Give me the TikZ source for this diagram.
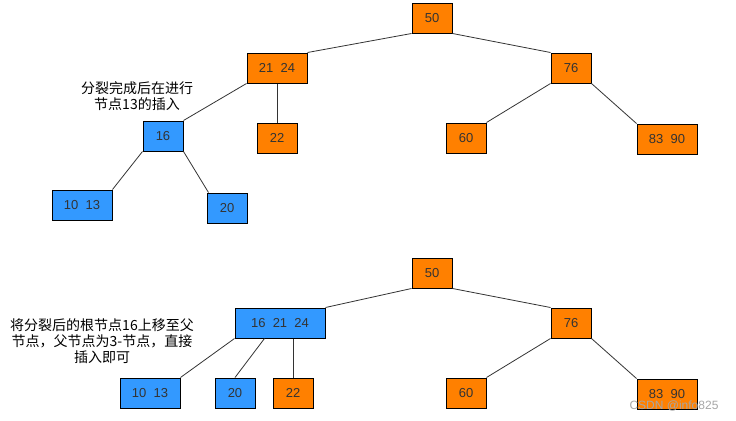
\documentclass[tikz,border=0pt]{standalone}
\usepackage{fontspec}
\setmainfont{Liberation Sans}
\newfontfamily\cjkfont{Noto Sans CJK SC}
\definecolor{keyorange}{RGB}{255,128,0}
\definecolor{keyblue}{RGB}{51,153,255}
\tikzset{
  key/.style={draw=black, line width=0.75pt, minimum height=22.5pt, minimum width=30pt,
    inner sep=0pt, text=black!80, font=\fontsize{9.75}{11}\selectfont},
  old/.style={key, fill=keyorange},
  new/.style={key, fill=keyblue},
  wide/.style={minimum width=45pt},
  note/.style={align=center, inner sep=0pt, font=\cjkfont\fontsize{10.5}{12}\selectfont},
  link/.style={draw=black!80, line width=0.6pt}
}
\begin{document}
\begin{tikzpicture}[x=0.75pt, y=-0.75pt]
    \useasboundingbox (0, 0) rectangle (736, 421);
    % before: 16 has been split off
    \node[old] (T50) at (432, 18) {50};
    \node[old, wide] (T2124) at (277, 68) {21\ \ 24};
    \node[old] (T76) at (571, 68) {76};
    \node[new] (T16) at (163, 136) {16};
    \node[old] (T22) at (277, 138) {22};
    \node[old] (T60) at (466, 138) {60};
    \node[old, wide] (T8390) at (667, 139) {83\ \ 90};
    \node[new, wide] (T1013) at (82, 205) {10\ \ 13};
    \node[new] (T20) at (227, 208) {20};
    \node[note] (TN) at (137, 96) {分裂完成后在进行\\节点13的插入};

    \draw[link] (T50.south west) -- (T2124.north east);
    \draw[link] (T50.south east) -- (T76.north west);
    \draw[link] (T2124.south west) -- (T16.north east);
    \draw[link] (T2124.south) -- (T22.north);
    \draw[link] (T76.south west) -- (T60.north east);
    \draw[link] (T76.south east) -- (T8390.north west);
    \draw[link] (T16.south west) -- (T1013.north east);
    \draw[link] (T16.south east) -- ([xshift=1.5pt]T20.north west);

    % after: 16 moved up into the parent
    \node[old] (B50) at (432, 273) {50};
    \node[new, minimum width=67.5pt] (B162124) at (280, 323) {16\ \ 21\ \ 24};
    \node[old] (B76) at (571, 323) {76};
    \node[new, wide] (B1013) at (150, 393) {10\ \ 13};
    \node[new] (B20) at (235, 393) {20};
    \node[old] (B22) at (293, 393) {22};
    \node[old] (B60) at (466, 393) {60};
    \node[old, wide] (B8390) at (667, 394) {83\ \ 90};
    \node[note] (BN) at (102, 341) {将分裂后的根节点16上移至父\\节点，父节点为3-节点，直接\\插入即可};

    \draw[link] (B50.south west) -- (B162124.north east);
    \draw[link] (B50.south east) -- (B76.north west);
    \draw[link] (B162124.south west) -- (B1013.north east);
    \draw[link] ([xshift=22.5pt]B162124.south west) -- (B20.north);
    \draw[link] (B22.north) -- (B22.north |- B162124.south);
    \draw[link] (B76.south west) -- (B60.north east);
    \draw[link] (B76.south east) -- (B8390.north west);

    \node[text=black!35, font=\fontsize{9}{10}\selectfont] (WM) at (674, 406) {CSDN @info825};
\end{tikzpicture}
\end{document}
